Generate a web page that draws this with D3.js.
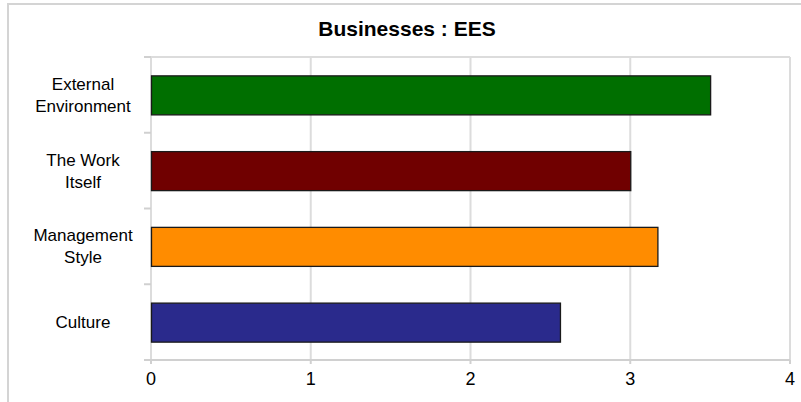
<!DOCTYPE html>
<html>
<head>
<meta charset="utf-8">
<script src="https://cdn.jsdelivr.net/npm/d3@7"></script>
<style>
  body { margin: 0; background: #fff; }
  svg { display: block; }
  text { font-family: "Liberation Sans", Arial, sans-serif; fill: #000; }
</style>
</head>
<body>
<svg id="chart" width="801" height="402"></svg>
<script>
const categories = [["External", "Environment"], ["The Work", "Itself"], ["Management", "Style"], ["Culture"]];
const categoryKeys = ["External Environment", "The Work Itself", "Management Style", "Culture"];
const values = [3.5, 3.0, 3.17, 2.56];
const colors = ["#006f00", "#700000", "#ff8c00", "#2a2a8c"];
const xTicks = [0, 1, 2, 3, 4];
const title = "Businesses : EES";

const svg = d3.select("#chart");
const W = 801, H = 402;
const m = { left: 151, right: 11, top: 57, bottom: 42 };

// outer frame
svg.append("rect").attr("x", 8).attr("y", 4).attr("width", 820).attr("height", 420)
  .attr("fill", "#fff").attr("stroke", "#d4d4d4").attr("stroke-width", 2);

svg.append("text").attr("x", 407).attr("y", 36).attr("text-anchor", "middle")
  .style("font-weight", "bold").style("font-size", "21px").text(title);

const x = d3.scaleLinear().domain([0, 4]).range([m.left, W - m.right]);
const y = d3.scaleBand().domain(categoryKeys).range([m.top, H - m.bottom]).padding(0);

const g = svg.append("g");

// vertical grid lines
g.selectAll(".grid").data(xTicks).join("line")
  .attr("x1", d => x(d)).attr("x2", d => x(d))
  .attr("y1", m.top).attr("y2", H - m.bottom)
  .attr("stroke", "#dcdcdc").attr("stroke-width", 2);
// top border of plot
g.append("line").attr("x1", x(0) - 7).attr("x2", x(4)).attr("y1", m.top).attr("y2", m.top)
  .attr("stroke", "#dcdcdc").attr("stroke-width", 2);

// y-axis ticks at band boundaries
const bounds = categoryKeys.map(k => y(k)).concat([y.range()[1]]);
g.selectAll(".yt").data(bounds).join("line")
  .attr("x1", x(0) - 7).attr("x2", x(0)).attr("y1", d => d).attr("y2", d => d)
  .attr("stroke", "#d0d0d0").attr("stroke-width", 2);

// x axis line and ticks
g.append("line").attr("x1", x(0) - 7).attr("x2", x(4)).attr("y1", H - m.bottom).attr("y2", H - m.bottom)
  .attr("stroke", "#d0d0d0").attr("stroke-width", 2);
g.selectAll(".xt").data(xTicks).join("line")
  .attr("x1", d => x(d)).attr("x2", d => x(d)).attr("y1", H - m.bottom).attr("y2", H - m.bottom + 4)
  .attr("stroke", "#d0d0d0").attr("stroke-width", 2);
g.selectAll(".xl").data(xTicks).join("text")
  .attr("x", d => x(d)).attr("y", H - m.bottom + 25).attr("text-anchor", "middle")
  .style("font-size", "18px").text(d => d);

// bars
const barH = y.bandwidth() * 0.515;
g.selectAll(".bar").data(values).join("rect")
  .attr("x", x(0) + 0.5)
  .attr("y", (d, i) => y(categoryKeys[i]) + y.bandwidth() / 2 - barH / 2 + 0.5)
  .attr("width", d => x(d) - x(0))
  .attr("height", barH)
  .attr("fill", (d, i) => colors[i])
  .attr("stroke", "#1a1a1a").attr("stroke-width", 1.3);

// category labels
categoryKeys.forEach((k, i) => {
  const lines = categories[i];
  const cy = y(k) + y.bandwidth() / 2;
  const lh = 22;
  const t = g.append("text").attr("text-anchor", "middle").style("font-size", "17px");
  lines.forEach((ln, j) => {
    t.append("tspan").attr("x", 83)
      .attr("y", cy + (j - (lines.length - 1) / 2) * lh + 6)
      .text(ln);
  });
});
</script>
</body>
</html>
